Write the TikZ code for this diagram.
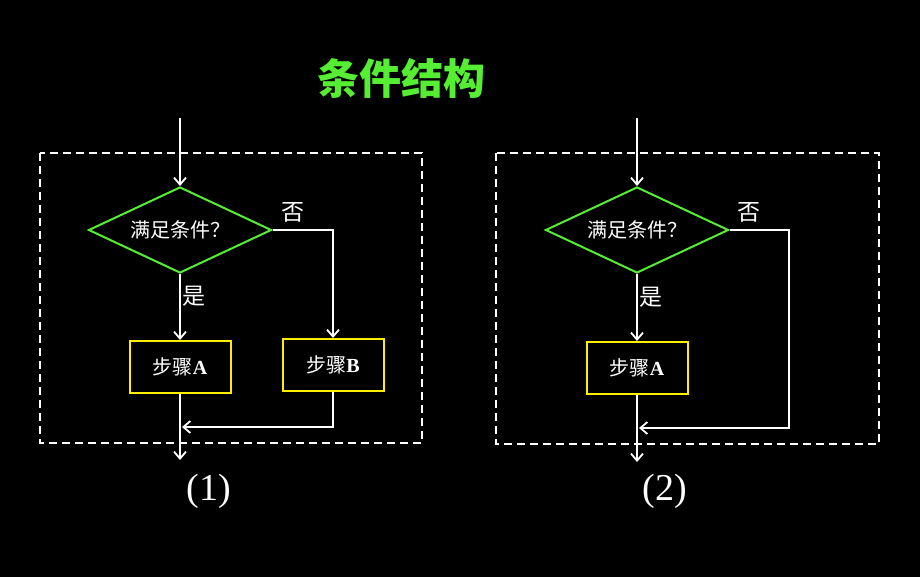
\documentclass[tikz,border=0pt]{standalone}
\usepackage{fontspec}
\setmainfont{Liberation Serif}
\newfontfamily\cjk{Noto Sans CJK SC}
\usetikzlibrary{shapes.geometric, arrows.meta, positioning}
\definecolor{condgreen}{HTML}{55EE33}
\definecolor{stepyellow}{HTML}{FFEE00}
\tikzstyle{decision} = [diamond, 
			draw = condgreen, 
			line width = 2pt, 
			text = white, 
			aspect = 2.13, 
			inner sep = 0pt, 
			minimum width = 183pt, 
			minimum height = 86pt, 
			font = \cjk\fontsize{20}{22}\selectfont]
\tikzstyle{stepbox} = [rectangle, 
			draw = stepyellow, 
			line width = 2pt, 
			text = white, 
			text centered, 
			minimum width = 101pt, 
			minimum height = 52pt, 
			font = \cjk\fontsize{20}{22}\selectfont]
\tikzstyle{line} = [draw, white, line width = 1.8pt, -{Straight Barb[length = 7pt, width = 12pt]}]
\tikzstyle{frame} = [draw, white, line width = 1.8pt, dash pattern = on 8pt off 5pt]
\tikzstyle{label} = [text = white, font = \cjk\fontsize{23}{25}\selectfont]
\tikzstyle{caption} = [text = white, font = \fontsize{38}{40}\selectfont]
\newcommand{\stepname}[1]{{\rmfamily\bfseries #1}}

\begin{document}
\begin{tikzpicture}[x = 1pt, y = -1pt]
	\fill [black] (0,0) rectangle (920,577);
	\useasboundingbox (0,0) rectangle (920,577);
	\node [text = condgreen, font = \cjk\bfseries\fontsize{42}{44}\selectfont] (title) at (401,78) {条件结构};
	% (1)
	\draw [frame] (40,153) rectangle (422,443);
	\coordinate (in1) at (180,118);
	\coordinate (out1) at (180,460);
	\coordinate (join1) at (182,427);
	\node [decision] (cond1) at (180,230) {满足条件？};
	\node [stepbox] (stepA1) at (180,367) {步骤\stepname{A}};
	\node [stepbox] (stepB1) at (333,365) {步骤\stepname{B}};
	\path [line] (in1) -- (cond1.north);
	\path [line] (cond1.south) -- (stepA1.north);
	\node [label, anchor = west] (yes1) at (179,296) {是};
	\path [line] (cond1.east) -| (stepB1.north);
	\node [label] (no1) at (293,212) {否};
	\path [line] (stepA1.south) -- (out1);
	\path [line] (stepB1.south) |- (join1);
	\node [caption] (cap1) at (209,491) {(1)};
	% (2)
	\draw [frame] (496,153) rectangle (879,444);
	\coordinate (in2) at (637,118);
	\coordinate (out2) at (637,462);
	\coordinate (turn2) at (789,428);
	\coordinate (join2) at (639,428);
	\node [decision] (cond2) at (637,230) {满足条件？};
	\node [stepbox] (stepA2) at (637,368) {步骤\stepname{A}};
	\path [line] (in2) -- (cond2.north);
	\path [line] (cond2.south) -- (stepA2.north);
	\node [label, anchor = west] (yes2) at (636,297) {是};
	\path [line] (cond2.east) -| (turn2) -- (join2);
	\node [label] (no2) at (749,212) {否};
	\path [line] (stepA2.south) -- (out2);
	\node [caption] (cap2) at (665,491) {(2)};
\end{tikzpicture}
\end{document}
